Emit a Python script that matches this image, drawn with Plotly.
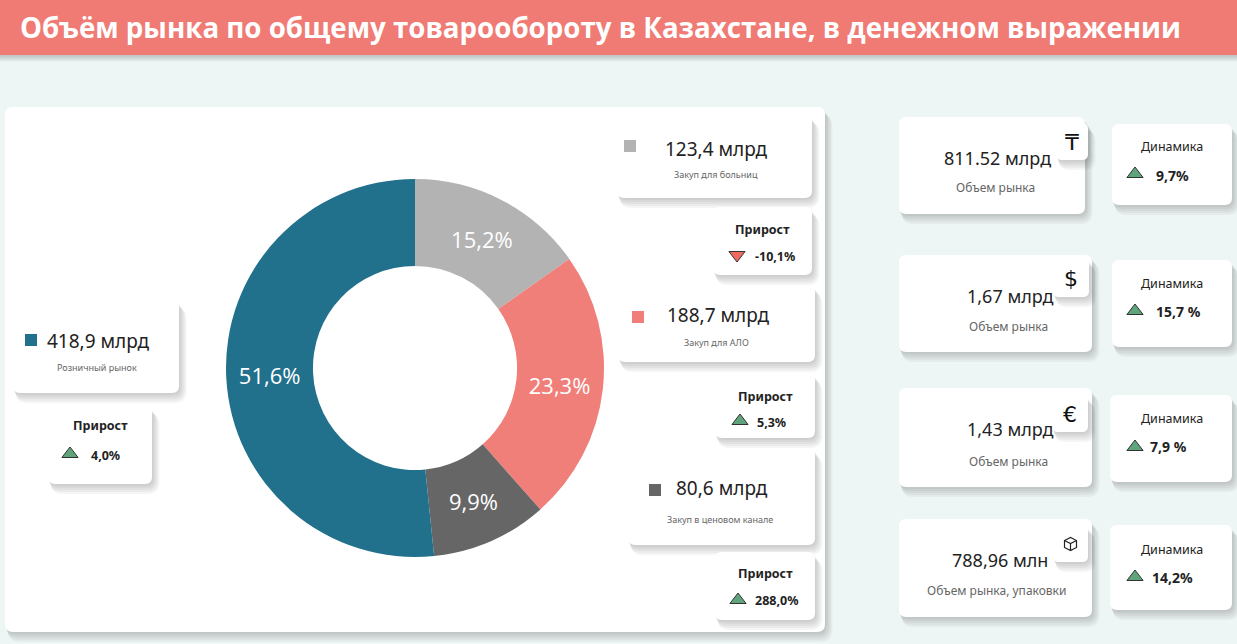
import plotly.graph_objs as go

# donut segments
segments = ["Закуп для больниц", "Закуп для АЛО", "Закуп в ценовом канале", "Розничный рынок"]
segment_values = [123.4, 188.7, 80.6, 418.9]          # млрд
segment_growth = [-10.1, 5.3, 288.0, 4.0]            # прирост, %
segment_colors = ["#B3B3B3", "#F07E79", "#666666", "#21708C"]

# right-hand KPI cards
kpi_values = ["811.52 млрд", "1,67 млрд", "1,43 млрд", "788,96 млн"]
kpi_labels = ["Объем рынка", "Объем рынка", "Объем рынка", "Объем рынка, упаковки"]
kpi_icons = ["₸", "$", "€", ""]
kpi_dynamics = [9.7, 15.7, 7.9, 14.2]
kpi_dyn_text = ["9,7%", "15,7 %", "7,9 %", "14,2%"]

title = "Объём рынка по общему товарообороту в Казахстане, в денежном выражении"

W, H = 1237, 644
bg_color = "#EEF6F5"
band_color = "#F07A74"
up_color = "#5FA47A"
down_color = "#F0695E"
font_main = "Noto Sans, DejaVu Sans, sans-serif"


def rounded(x0, y0, x1, y1, r):
    return (f"M{x0 + r},{y0} L{x1 - r},{y0} Q{x1},{y0} {x1},{y0 + r} "
            f"L{x1},{y1 - r} Q{x1},{y1} {x1 - r},{y1} L{x0 + r},{y1} "
            f"Q{x0},{y1} {x0},{y1 - r} L{x0},{y0 + r} Q{x0},{y0} {x0 + r},{y0} Z")


shapes = []


def card(x0, y0, x1, y1, r=7):
    # soft shadow, then the white card
    for i in range(1, 6):
        shapes.append(dict(type="path", xref="x", yref="y", layer="below",
                           path=rounded(x0 + i * 0.5, y0 + i * 1.5, x1 + i * 1.5, y1 + i * 2, r + i),
                           fillcolor="rgba(0,0,0,0.04)", line=dict(width=0)))
    shapes.append(dict(type="path", xref="x", yref="y", layer="below",
                       path=rounded(x0, y0, x1, y1, r),
                       fillcolor="white", line=dict(width=0)))


def fmt_pct(v):
    return ("%.1f%%" % v).replace(".", ",")


# title band with shadow
for i in range(1, 5):
    shapes.append(dict(type="rect", xref="x", yref="y", layer="below",
                       x0=0, x1=W, y0=0, y1=55 + i * 1.6,
                       fillcolor="rgba(0,0,0,0.05)", line=dict(width=0)))
shapes.append(dict(type="rect", xref="x", yref="y", layer="below",
                   x0=0, x1=W, y0=0, y1=55, fillcolor=band_color, line=dict(width=0)))

# main panel
card(5, 107, 825, 632, 8)

annotations = []


def text(x, y, s, size, color="#222", bold=False, family=font_main):
    annotations.append(dict(x=x, y=y, xref="x", yref="y", text=("<b>%s</b>" % s) if bold else s,
                            showarrow=False, xanchor="center", yanchor="middle",
                            font=dict(size=size, color=color, family=family)))


annotations.append(dict(x=18, y=27, xref="x", yref="y", text="<b>%s</b>" % title,
                        showarrow=False, xanchor="left", yanchor="middle",
                        font=dict(size=27.7, color="white", family="Open Sans, sans-serif")))

# segment cards: (box, square pos, value pos, label pos, growth box, triangle pos, growth text pos)
seg_layout = [
    ((617, 115, 812, 198), (630, 146), (716, 149), (716, 174),
     (713, 207, 812, 275), (762, 229), (737, 255), (775, 256)),
    ((618, 285, 815, 362), (638, 317), (718, 315), (716, 342),
     (715, 373, 815, 438), (765, 396), (740, 421), (771, 422)),
    ((628, 448, 815, 545), (655, 490), (722, 488), (720, 519),
     (715, 552, 815, 620), (765, 573), (738, 600), (776, 600)),
    ((13, 300, 179, 393), (31, 340), (98, 341), (97, 367),
     (48, 406, 152, 484), (100, 425), (70, 454), (105, 455)),
]

sq_x, sq_y, tri_x, tri_y, tri_sym, tri_col = [], [], [], [], [], []
for i, lay in enumerate(seg_layout):
    box, sq, vpos, lpos, gbox, gtitle, tri, gtext = lay
    card(*box)
    card(*gbox)
    sq_x.append(sq[0]); sq_y.append(sq[1])
    text(vpos[0], vpos[1], ("%.1f млрд" % segment_values[i]).replace(".", ","), 19)
    text(lpos[0], lpos[1], segments[i], 9, color="#666")
    text(gtitle[0], gtitle[1], "Прирост", 12.5, bold=True)
    tri_x.append(tri[0]); tri_y.append(tri[1])
    up = segment_growth[i] >= 0
    tri_sym.append("triangle-up" if up else "triangle-down")
    tri_col.append(up_color if up else down_color)
    text(gtext[0], gtext[1], fmt_pct(segment_growth[i]), 12.5, bold=True)

# KPI cards: (box, icon box, value pos, label pos, dyn box, dyn title, triangle, dyn text)
kpi_layout = [
    ((899, 117, 1085, 214), (1056, 123, 1088, 160), (997, 158), (995, 187),
     (1112, 124, 1232, 205), (1172, 146), (1135, 174), (1172, 175)),
    ((899, 255, 1092, 352), (1053, 258, 1089, 297), (1010, 296), (1008, 326),
     (1112, 260, 1232, 347), (1172, 283), (1135, 311), (1178, 311)),
    ((899, 388, 1092, 487), (1052, 395, 1088, 432), (1010, 429), (1008, 461),
     (1110, 395, 1232, 482), (1172, 418), (1135, 447), (1168, 446)),
    ((899, 519, 1092, 617), (1053, 525, 1088, 562), (1000, 560), (996, 590),
     (1110, 525, 1232, 610), (1172, 549), (1135, 577), (1172, 577)),
]

for i, lay in enumerate(kpi_layout):
    box, ibox, vpos, lpos, dbox, dtitle, tri, dtext = lay
    card(*box)
    card(*ibox, r=6)
    card(*dbox)
    text(vpos[0], vpos[1], kpi_values[i], 18)
    text(lpos[0], lpos[1], kpi_labels[i], 12, color="#666")
    cx, cy = (ibox[0] + ibox[2]) / 2, (ibox[1] + ibox[3]) / 2
    if kpi_icons[i]:
        text(cx, cy + 1, kpi_icons[i], 22, color="#111", family="DejaVu Sans, sans-serif")
    else:
        # small outlined box icon
        s = 6
        shapes.append(dict(type="path", xref="x", yref="y",
                           path=(f"M{cx - s},{cy - 3} L{cx},{cy - 6} L{cx + s},{cy - 3} "
                                 f"L{cx + s},{cy + 4} L{cx},{cy + 7} L{cx - s},{cy + 4} Z "
                                 f"M{cx - s},{cy - 3} L{cx},{cy} L{cx + s},{cy - 3} M{cx},{cy} L{cx},{cy + 7}"),
                           line=dict(color="#222", width=1.2)))
    text(dtitle[0], dtitle[1], "Динамика", 12.5, color="#222")
    tri_x.append(tri[0]); tri_y.append(tri[1])
    up = kpi_dynamics[i] >= 0
    tri_sym.append("triangle-up" if up else "triangle-down")
    tri_col.append(up_color if up else down_color)
    text(dtext[0], dtext[1], kpi_dyn_text[i], 14, bold=True)

donut = go.Pie(
    labels=segments, values=segment_values, hole=0.54, sort=False, direction="clockwise",
    rotation=0, marker=dict(colors=segment_colors, line=dict(width=0)),
    texttemplate="%{percent:.1%}", textposition="inside", insidetextorientation="horizontal",
    textfont=dict(size=22, color="white", family="Open Sans, sans-serif"),
    domain=dict(x=[225 / W, 605 / W], y=[(H - 557) / H, (H - 179) / H]),
    showlegend=False, hoverinfo="label+value+percent",
)

squares = go.Scatter(x=sq_x, y=sq_y, mode="markers", showlegend=False, hoverinfo="skip",
                     marker=dict(symbol="square", size=12, color=segment_colors))
triangles = go.Scatter(x=tri_x, y=tri_y, mode="markers", showlegend=False, hoverinfo="skip",
                       marker=dict(symbol=tri_sym, size=14, color=tri_col,
                                   line=dict(color="#333", width=1)))

fig = go.Figure(data=[donut, squares, triangles])
fig.update_layout(
    width=W, height=H, autosize=False,
    margin=dict(l=0, r=0, t=0, b=0),
    paper_bgcolor=bg_color, plot_bgcolor=bg_color,
    separators=", ",
    xaxis=dict(range=[0, W], visible=False, fixedrange=True, domain=[0, 1]),
    yaxis=dict(range=[H, 0], visible=False, fixedrange=True, domain=[0, 1]),
    shapes=shapes, annotations=annotations,
    font=dict(family=font_main),
)
fig.write_html("out.html", config={"displayModeBar": False},
               post_script="document.body.style.margin='0';")
